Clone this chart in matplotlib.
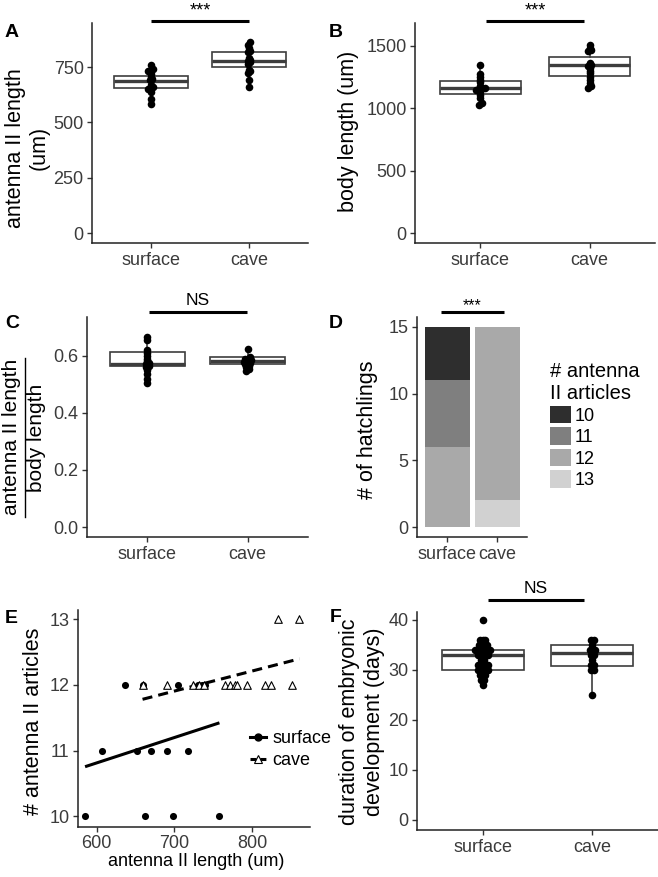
import numpy as np
import matplotlib
matplotlib.use('Agg')
import matplotlib.pyplot as plt
from matplotlib.patches import Patch
from matplotlib.lines import Line2D
from matplotlib.transforms import offset_copy

plt.rcParams['font.family'] = ['Liberation Sans', 'DejaVu Sans']

groups = ['surface', 'cave']

# per hatchling: antenna II length (um) and number of antenna II articles
surf_ant = [585, 607, 636, 652, 660, 662, 670, 690, 698, 705, 718, 730, 735, 740, 758]
surf_art = [10, 11, 12, 11, 12, 10, 11, 11, 10, 12, 11, 12, 12, 12, 10]
cave_ant = [659, 690, 724, 732, 738, 765, 772, 778, 781, 793, 817, 824, 834, 851, 861]
cave_art = [12, 12, 12, 12, 12, 12, 12, 12, 12, 12, 12, 12, 13, 12, 13]

# body length (um)
surf_body = [1030, 1045, 1080, 1110, 1130, 1150, 1155, 1160, 1165, 1180, 1210, 1230, 1250, 1275, 1345]
cave_body = [1165, 1180, 1200, 1225, 1250, 1280, 1300, 1320, 1340, 1350, 1365, 1460, 1470, 1480, 1505]

# antenna II length / body length
surf_ratio = [0.505, 0.52, 0.535, 0.55, 0.56, 0.565, 0.57, 0.575, 0.58, 0.59, 0.60, 0.61, 0.62, 0.655, 0.665]
cave_ratio = [0.548, 0.555, 0.56, 0.565, 0.57, 0.572, 0.575, 0.578, 0.58, 0.582, 0.585, 0.588, 0.59, 0.595, 0.622]

# duration of embryonic development (days)
surf_days = [27, 28, 28, 29, 29, 29, 30, 30, 30, 30, 30, 31, 31, 31, 31, 31,
             32, 32, 33, 33, 33, 33, 33, 34, 34, 34, 34, 34, 34, 34,
             35, 35, 35, 35, 36, 36, 36, 40]
cave_days = [25, 30, 30, 31, 31, 32, 33, 33, 34, 34, 34, 35, 36, 36]

# box statistics: [surface, cave]
ant_q1, ant_med, ant_q3 = [655, 748], [688, 777], [709, 819]
body_q1, body_med, body_q3 = [1115, 1262], [1160, 1345], [1219, 1414]
ratio_q1, ratio_med, ratio_q3 = [0.565, 0.571], [0.571, 0.582], [0.613, 0.597]
days_q1, days_med, days_q3 = [30.1, 30.9], [33, 33.5], [34, 35]
days_lo, days_hi = [27, 25], [36, 36]

art_levels = [10, 11, 12, 13]
art_colors = ['#2e2e2e', '#7f7f7f', '#a9a9a9', '#d1d1d1']

W, H = 658, 877
fig = plt.figure(figsize=(W / 100, H / 100), dpi=100)
BOXC = '#3d3d3d'


def px_axes(l, t, r, b):
    return fig.add_axes([l / W, 1 - b / H, (r - l) / W, (b - t) / H])


def style(ax):
    for s in ['top', 'right']:
        ax.spines[s].set_visible(False)
    for s in ['left', 'bottom']:
        ax.spines[s].set_linewidth(1.1)
        ax.spines[s].set_color('#222222')
    ax.tick_params(length=3.5, width=1.0, color='#333333', labelsize=13,
                   labelcolor='#3b3b3b', pad=2.5)


def spread(vals, binw, step):
    vals = np.sort(np.asarray(vals, float))
    offs = np.zeros(len(vals))
    i = 0
    while i < len(vals):
        j = i
        while j + 1 < len(vals) and vals[j + 1] - vals[i] < binw:
            j += 1
        n = j - i + 1
        offs[i:j + 1] = (np.arange(n) - (n - 1) / 2) * step
        i = j + 1
    return vals, offs


def boxpanel(ax, data, q1, med, q3, lo, hi, binw, step):
    stats = []
    for k in range(2):
        stats.append(dict(med=med[k], q1=q1[k], q3=q3[k], whislo=lo[k], whishi=hi[k], fliers=[]))
    ax.bxp(stats, positions=[1, 2], widths=0.75, showfliers=False, showcaps=False,
           patch_artist=True,
           boxprops=dict(facecolor='white', edgecolor=BOXC, linewidth=1.2),
           medianprops=dict(color=BOXC, linewidth=2.4, solid_capstyle='butt'),
           whiskerprops=dict(color=BOXC, linewidth=1.2))
    for k, d in enumerate(data):
        v, o = spread(d, binw, step)
        ax.scatter(k + 1 + o, v, s=30, color='black', zorder=3, linewidths=0)
    ax.set_xlim(0.4, 2.6)
    ax.set_xticks([1, 2])
    ax.set_xticklabels(groups)
    ax.tick_params(axis='x', pad=3)


def sig(ax, x0, x1, bar_px, text, text_px, size):
    tr = offset_copy(ax.get_xaxis_transform(), fig=fig, y=bar_px, units='dots')
    ax.plot([x0, x1], [1, 1], transform=tr, color='black', lw=2.2,
            clip_on=False, solid_capstyle='butt')
    tr2 = offset_copy(ax.get_xaxis_transform(), fig=fig, y=text_px, units='dots')
    ax.text((x0 + x1) / 2, 1, text, transform=tr2, ha='center', va='baseline',
            fontsize=size, clip_on=False)


def ylab(x, y, s, size=15.5):
    return fig.text(x / W, 1 - y / H, s, rotation=90, ha='center', va='center',
                    multialignment='center', fontsize=size, color='black')


def letter(x, y, s):
    fig.text(x / W, 1 - y / H, s, ha='left', va='baseline', fontsize=14, fontweight='bold')


def minmax_in(d, q1, q3):
    d = np.asarray(d)
    iqr = q3 - q1
    d = d[(d >= q1 - 1.5 * iqr) & (d <= q3 + 1.5 * iqr)]
    return d.min(), d.max()


# A
axA = px_axes(92, 23, 308, 243)
style(axA)
lo_hi = [minmax_in(d, a, b) for d, a, b in zip([surf_ant, cave_ant], ant_q1, ant_q3)]
boxpanel(axA, [surf_ant, cave_ant], ant_q1, ant_med, ant_q3,
         [x[0] for x in lo_hi], [x[1] for x in lo_hi], 12, 0.025)
axA.set_ylim(-45, 949)
axA.set_yticks([0, 250, 500, 750])
sig(axA, 1.0, 2.0, 2.3, '***', 8, 13)
ylab(27.5, 148, 'antenna II length\n(um)')
letter(5, 37, 'A')

# B
axB = px_axes(415, 23, 655, 243)
style(axB)
lo_hi = [minmax_in(d, a, b) for d, a, b in zip([surf_body, cave_body], body_q1, body_q3)]
boxpanel(axB, [surf_body, cave_body], body_q1, body_med, body_q3,
         [x[0] for x in lo_hi], [x[1] for x in lo_hi], 20, 0.025)
axB.set_ylim(-80, 1684)
axB.set_yticks([0, 500, 1000, 1500])
sig(axB, 1.055, 1.945, 2.3, '***', 8, 13)
ylab(349, 131.5, 'body length (um)')
letter(329, 37, 'B')

# C
axC = px_axes(87, 317, 308, 537)
style(axC)
lo_hi = [minmax_in(d, a, b) for d, a, b in zip([surf_ratio, cave_ratio], ratio_q1, ratio_q3)]
boxpanel(axC, [surf_ratio, cave_ratio], ratio_q1, ratio_med, ratio_q3,
         [x[0] for x in lo_hi], [x[1] for x in lo_hi], 0.008, 0.025)
axC.set_ylim(-0.035, 0.7356)
axC.set_yticks([0.0, 0.2, 0.4, 0.6])
axC.set_yticklabels(['0.0', '0.2', '0.4', '0.6'])
sig(axC, 1.02, 1.99, 5.3, 'NS', 12, 12.5)
# fraction-style y label
ylab(12, 437, 'antenna II length', 15)
ylab(37, 438, 'body length', 15)
fig.add_artist(Line2D([24.5 / W, 24.5 / W], [1 - 358 / H, 1 - 517 / H],
                      transform=fig.transFigure, color='black', lw=1.0))
letter(5, 328, 'C')

# D
axD = px_axes(417, 317, 527, 537)
style(axD)
surf_arr, cave_arr = np.array(surf_art), np.array(cave_art)
bottom = np.zeros(2)
for lvl, col in reversed(list(zip(art_levels, art_colors))):
    cnt = np.array([(surf_arr == lvl).sum(), (cave_arr == lvl).sum()])
    axD.bar([1, 2], cnt, width=0.9, bottom=bottom, color=col, label=str(lvl), linewidth=0)
    bottom += cnt
axD.set_xlim(0.4, 2.6)
axD.set_ylim(-0.75, 15.75)
axD.set_xticks([1, 2])
axD.set_xticklabels(groups)
axD.tick_params(axis='x', pad=3)
axD.set_yticks([0, 5, 10, 15])
sig(axD, 0.88, 2.14, 4.7, '***', 7, 11.5)
ylab(367, 430, '# of hatchlings')
letter(329, 328, 'D')
handles = [Patch(facecolor=c, edgecolor='none') for c in art_colors]
legD = axD.legend(handles, [str(l) for l in art_levels], title='# antenna\nII articles',
                  loc='upper left', bbox_to_anchor=(550 / W, 1 - 362 / H),
                  bbox_transform=fig.transFigure, frameon=False, fontsize=13,
                  title_fontsize=14.5, handlelength=1.15, handleheight=1.1,
                  labelspacing=0.15, handletextpad=0.2, borderpad=0, borderaxespad=0,
                  alignment='left')

# E
axE = px_axes(78, 610, 310, 827)
style(axE)
sx, sy = np.array(surf_ant, float), np.array(surf_art, float)
cx, cy = np.array(cave_ant, float), np.array(cave_art, float)
axE.scatter(sx, sy, s=26, color='black', linewidths=0, zorder=3)
axE.scatter(cx, cy, s=30, marker='^', facecolor='white', edgecolor='black', linewidths=0.8, zorder=3)
ps = np.polyfit(sx, sy, 1)
pc = np.polyfit(cx, cy, 1)
xs = np.array([sx.min(), sx.max()])
xc = np.array([cx.min(), cx.max()])
axE.plot(xs, np.polyval(ps, xs), color='black', lw=2.2, solid_capstyle='butt')
axE.plot(xc, np.polyval(pc, xc), color='black', lw=2.2, linestyle=(0, (3.3, 2)), dash_capstyle='butt')
axE.set_xlim(575.9, 874.6)
axE.set_ylim(9.837, 13.14)
axE.set_xticks([600, 700, 800])
axE.set_yticks([10, 11, 12, 13])
ylab(34, 721.5, '# antenna II articles')
fig.text(196 / W, 1 - 862 / H, 'antenna II length (um)', ha='center', va='center', fontsize=13)
letter(5, 623, 'E')
hE = [Line2D([0], [0], color='black', lw=2.2, marker='o', ms=5, mec='black'),
      Line2D([0], [0], color='black', lw=2.2, linestyle=(0, (2, 1.2)), marker='^', ms=5.5,
             mfc='white', mec='black', mew=0.8)]
axE.legend(hE, groups, loc='upper left', bbox_to_anchor=(250 / W, 1 - 730 / H),
           bbox_transform=fig.transFigure, frameon=False, fontsize=13,
           handlelength=0.9, handletextpad=0.35, labelspacing=0.28,
           borderpad=0, borderaxespad=0)

# F
axF = px_axes(417, 612, 658, 830)
style(axF)
boxpanel(axF, [surf_days, cave_days], days_q1, days_med, days_q3, days_lo, days_hi, 0.5, 0.023)
axF.set_ylim(-2, 41.6)
axF.set_yticks([0, 10, 20, 30, 40])
sig(axF, 1.045, 1.927, 12.4, 'NS', 18.7, 12.5)
ylab(362, 722, 'duration of embryonic\ndevelopment (days)')
letter(330, 622, 'F')

fig.savefig('out.png', dpi=100)
